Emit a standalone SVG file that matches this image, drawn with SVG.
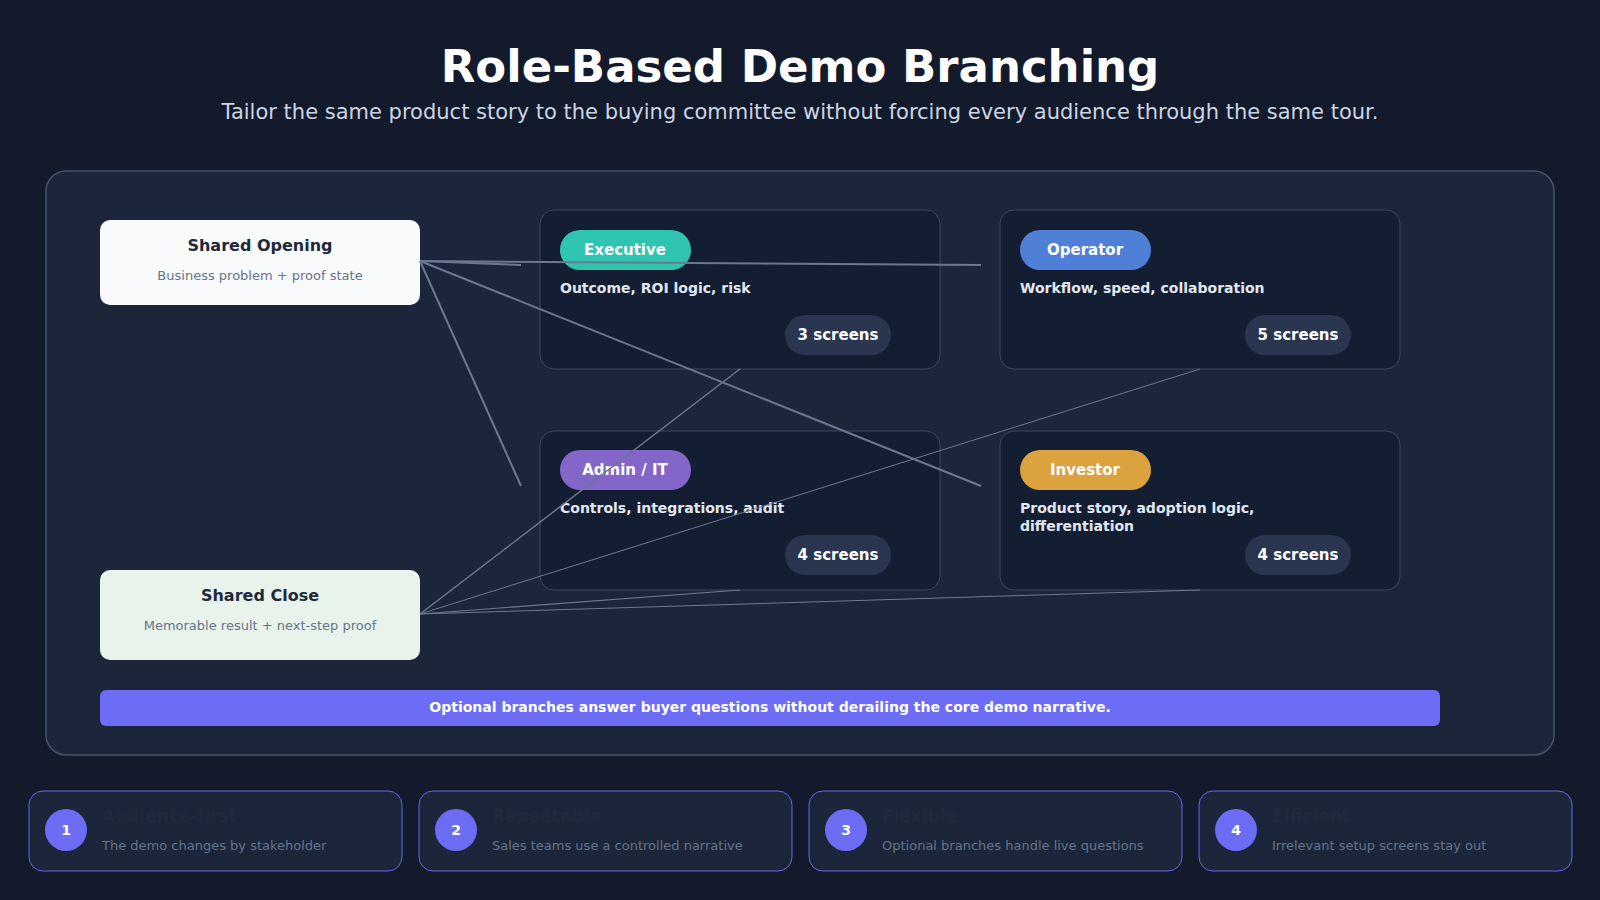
<svg xmlns="http://www.w3.org/2000/svg" width="1600" height="900" viewBox="0 0 1600 900">
<style>
text{font-family:"DejaVu Sans",sans-serif}
.card{fill:#141e33;stroke:#3a4760;stroke-width:1}
.pt{fill:#fff;font-weight:bold;font-size:15px;text-anchor:middle}
.desc{fill:#e2e8f0;font-weight:bold;font-size:14px}
.scr{fill:#2a3550}
.st{fill:#fff;font-weight:bold;font-size:15px;text-anchor:middle}
.conn line{stroke:#6b7890}
.bc{fill:#1b263a;stroke:#6366f1;stroke-width:1}
.bn{fill:#6c6cf5}
.bnt{fill:#fff;font-size:14px;font-weight:bold;text-anchor:middle}
.btt{fill:#1e293b;font-size:17px;font-weight:bold}
.bst{fill:#64748b;font-size:13px}
</style>
<rect width="1600" height="900" fill="#131a2c"/>
<text x="800" y="82" text-anchor="middle" fill="#fff" font-size="45" font-weight="bold">Role-Based Demo Branching</text>
<text x="800" y="119" text-anchor="middle" fill="#cbd5e1" font-size="21">Tailor the same product story to the buying committee without forcing every audience through the same tour.</text>
<rect x="46" y="171" width="1508" height="584" rx="20" fill="#1b263a" stroke="#45536b" stroke-width="1.5"/>
<g id="opening"><rect x="100" y="220" width="320" height="85" rx="10" fill="#f8fafc"/>
<text x="260" y="251" text-anchor="middle" fill="#1e293b" font-size="16" font-weight="bold">Shared Opening</text>
<text x="260" y="280" text-anchor="middle" fill="#64748b" font-size="13">Business problem + proof state</text></g>
<g id="close"><rect x="100" y="570" width="320" height="90" rx="10" fill="#e8f3ec"/>
<text x="260" y="601" text-anchor="middle" fill="#1e293b" font-size="16" font-weight="bold">Shared Close</text>
<text x="260" y="630" text-anchor="middle" fill="#64748b" font-size="13">Memorable result + next-step proof</text></g>
<g id="executive"><rect class="card" x="540" y="210" width="400" height="159" rx="14"/>
<rect x="560" y="230" width="131" height="40" rx="20" fill="#2ec4b0"/><text class="pt" x="625" y="255">Executive</text>
<text class="desc" x="560" y="293">Outcome, ROI logic, risk</text>
<rect class="scr" x="785" y="315" width="106" height="40" rx="20"/><text class="st" x="838" y="340">3 screens</text></g>
<g id="operator"><rect class="card" x="1000" y="210" width="400" height="159" rx="14"/>
<rect x="1020" y="230" width="131" height="40" rx="20" fill="#4f7fd6"/><text class="pt" x="1085" y="255">Operator</text>
<text class="desc" x="1020" y="293">Workflow, speed, collaboration</text>
<rect class="scr" x="1245" y="315" width="106" height="40" rx="20"/><text class="st" x="1298" y="340">5 screens</text></g>
<g id="admin"><rect class="card" x="540" y="431" width="400" height="159" rx="14"/>
<rect x="560" y="450" width="131" height="40" rx="20" fill="#8466c8"/><text class="pt" x="625" y="475">Admin / IT</text>
<text class="desc" x="560" y="513">Controls, integrations, audit</text>
<rect class="scr" x="785" y="535" width="106" height="40" rx="20"/><text class="st" x="838" y="560">4 screens</text></g>
<g id="investor"><rect class="card" x="1000" y="431" width="400" height="159" rx="14"/>
<rect x="1020" y="450" width="131" height="40" rx="20" fill="#dba23e"/><text class="pt" x="1085" y="475">Investor</text>
<text class="desc" x="1020" y="513">Product story, adoption logic,</text>
<text class="desc" x="1020" y="531">differentiation</text>
<rect class="scr" x="1245" y="535" width="106" height="40" rx="20"/><text class="st" x="1298" y="560">4 screens</text></g>
<g class="conn" id="connectors">
<line x1="420" y1="261" x2="521" y2="265" stroke-width="2"/>
<line x1="420" y1="261" x2="981" y2="265" stroke-width="2"/>
<line x1="420" y1="261" x2="521" y2="486" stroke-width="2"/>
<line x1="420" y1="261" x2="981" y2="486" stroke-width="2"/>
<line x1="420" y1="614" x2="740" y2="369" stroke-width="1.5"/>
<line x1="420" y1="614" x2="1200" y2="369" stroke-width="1"/>
<line x1="420" y1="614" x2="740" y2="590" stroke-width="1.2"/>
<line x1="420" y1="614" x2="1200" y2="590" stroke-width="1"/>
</g>
<g id="banner"><rect class="bn" x="100" y="690" width="1340" height="36" rx="6"/>
<text class="bnt" x="770" y="712">Optional branches answer buyer questions without derailing the core demo narrative.</text></g>
<g id="b1"><rect class="bc" x="29" y="791" width="373" height="80" rx="14"/><circle cx="66" cy="830" r="21" class="bn"/><text x="66" y="835" class="bnt">1</text>
<text class="btt" x="102" y="822">Audience-first</text><text class="bst" x="102" y="850">The demo changes by stakeholder</text></g>
<g id="b2"><rect class="bc" x="419" y="791" width="373" height="80" rx="14"/><circle cx="456" cy="830" r="21" class="bn"/><text x="456" y="835" class="bnt">2</text>
<text class="btt" x="492" y="822">Repeatable</text><text class="bst" x="492" y="850">Sales teams use a controlled narrative</text></g>
<g id="b3"><rect class="bc" x="809" y="791" width="373" height="80" rx="14"/><circle cx="846" cy="830" r="21" class="bn"/><text x="846" y="835" class="bnt">3</text>
<text class="btt" x="882" y="822">Flexible</text><text class="bst" x="882" y="850">Optional branches handle live questions</text></g>
<g id="b4"><rect class="bc" x="1199" y="791" width="373" height="80" rx="14"/><circle cx="1236" cy="830" r="21" class="bn"/><text x="1236" y="835" class="bnt">4</text>
<text class="btt" x="1272" y="822">Efficient</text><text class="bst" x="1272" y="850">Irrelevant setup screens stay out</text></g>
</svg>
